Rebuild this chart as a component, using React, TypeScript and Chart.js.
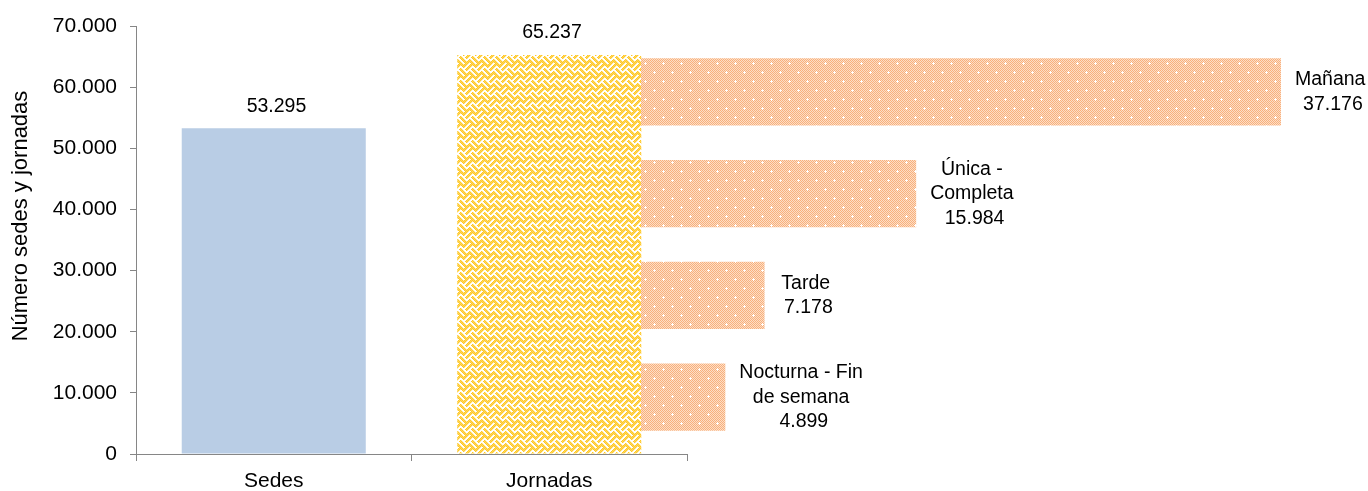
import React, { useEffect, useRef } from 'react';
import { Chart, registerables } from 'chart.js';

Chart.register(...registerables);

// ---- data ----
const categories = ['Sedes', 'Jornadas'];
const totals = [53295, 65237];
const shifts = ['Mañana', 'Única - Completa', 'Tarde', 'Nocturna - Fin de semana'];
const shiftLabelLines = [['Mañana'], ['Única -', 'Completa'], ['Tarde'], ['Nocturna - Fin', 'de semana']];
const shiftValues = [37176, 15984, 7178, 4899];
const yMin = 0;
const yMax = 70000;
const yStep = 10000;
const yAxisTitle = 'Número sedes y jornadas';

// ---- breakdown chart scale (hidden value axis) ----
const BREAKDOWN_MAX = 42231;

const W = 1368;
const H = 491;
const FONT = "'Liberation Sans', Arial, Helvetica, sans-serif";
const AXIS = '#868686';
const BLUE = '#B9CDE5';

const fmt = (n: number) => String(Math.round(n)).replace(/\B(?=(\d{3})+(?!\d))/g, '.');

function tileToPattern(ctx: CanvasRenderingContext2D, S: number, colorAt: (x: number, y: number) => number[]) {
  const c = document.createElement('canvas');
  c.width = S;
  c.height = S;
  const g = c.getContext('2d')!;
  const img = g.createImageData(S, S);
  for (let y = 0; y < S; y++) {
    for (let x = 0; x < S; x++) {
      const col = colorAt(x, y);
      const k = (y * S + x) * 4;
      img.data[k] = col[0];
      img.data[k + 1] = col[1];
      img.data[k + 2] = col[2];
      img.data[k + 3] = 255;
    }
  }
  g.putImageData(img, 0, 0);
  return ctx.createPattern(c, 'repeat')!;
}

function makeOrangePattern(ctx: CanvasRenderingContext2D) {
  const isPlus = (x: number, y: number, cx: number, cy: number) =>
    (x === cx && Math.abs(y - cy) <= 1) || (y === cy && Math.abs(x - cx) <= 1);
  return tileToPattern(ctx, 18, (x, y) => {
    if (isPlus(x, y, 4, 4) || isPlus(x, y, 13, 13)) return [255, 255, 255];
    return (x + y) % 2 === 0 ? [248, 176, 124] : [253, 222, 198];
  });
}

function makeYellowPattern(ctx: CanvasRenderingContext2D) {
  const P = 12;
  return tileToPattern(ctx, 24, (x, y) => {
    const u = x + y + 96;
    const v = x - y + 96;
    const cell = (Math.floor(u / P) + Math.floor(v / P)) % 2;
    const t = (cell === 0 ? v : u) % 6;
    if (t <= 2) return (x + y) % 2 === 0 ? [255, 200, 40] : [255, 214, 90];
    if (t === 3) return [255, 234, 165];
    return [255, 255, 255];
  });
}

const mainLabels = {
  id: 'mainLabels',
  afterDatasetsDraw(chart: any) {
    const ctx: CanvasRenderingContext2D = chart.ctx;
    ctx.save();
    ctx.fillStyle = '#000';
    ctx.textAlign = 'center';
    ctx.textBaseline = 'middle';
    ctx.font = `19.5px ${FONT}`;
    const sp = ctx.measureText(' ').width;
    chart.getDatasetMeta(0).data.forEach((el: any, i: number) => {
      ctx.fillText(fmt(totals[i]), el.x + sp / 2, el.y - 22);
    });
    ctx.font = `22px ${FONT}`;
    ctx.translate(21, 216);
    ctx.rotate(-Math.PI / 2);
    ctx.fillText(yAxisTitle, 0, 0);
    ctx.restore();
  },
};

const breakdownLabels = {
  id: 'breakdownLabels',
  afterDatasetsDraw(chart: any) {
    const ctx: CanvasRenderingContext2D = chart.ctx;
    ctx.save();
    ctx.fillStyle = '#000';
    ctx.textAlign = 'center';
    ctx.textBaseline = 'middle';
    ctx.font = `19.5px ${FONT}`;
    const sp = ctx.measureText(' ').width;
    const lh = 24.5;
    chart.getDatasetMeta(0).data.forEach((el: any, i: number) => {
      const textLines = shiftLabelLines[i];
      const valText = fmt(shiftValues[i]);
      const widths = textLines.map((l) => ctx.measureText(l).width);
      const w = Math.max(...widths, ctx.measureText(valText).width + sp);
      const cx = el.x + 14 + w / 2;
      const n = textLines.length + 1;
      const y0 = el.y - ((n - 1) * lh) / 2;
      textLines.forEach((l, k) => ctx.fillText(l, cx, y0 + k * lh));
      ctx.fillText(valText, cx + sp / 2, y0 + textLines.length * lh);
    });
    ctx.restore();
  },
};

export default function App() {
  const refA = useRef<HTMLCanvasElement>(null);
  const refB = useRef<HTMLCanvasElement>(null);

  useEffect(() => {
    Chart.defaults.font.family = FONT;
    const ctxA = refA.current!.getContext('2d')!;
    const chartA = new Chart(ctxA, {
      type: 'bar',
      data: {
        labels: categories,
        datasets: [
          {
            label: 'Total',
            data: totals,
            backgroundColor: [BLUE, makeYellowPattern(ctxA)],
            borderWidth: 0,
            categoryPercentage: 1,
            barPercentage: 0.668,
          },
        ],
      },
      options: {
        animation: false,
        responsive: false,
        devicePixelRatio: 1,
        events: [],
        layout: { padding: { left: 0, top: 26, right: 681, bottom: 0 } },
        plugins: { legend: { display: false }, tooltip: { enabled: false } },
        scales: {
          x: {
            type: 'category',
            offset: true,
            grid: { display: true, offset: true, drawOnChartArea: false, drawTicks: true, tickLength: 7, color: AXIS, lineWidth: 1 },
            border: { display: true, color: AXIS, width: 1 },
            ticks: { font: { size: 21, family: FONT }, color: '#000', padding: 8, maxRotation: 0, autoSkip: false },
            afterFit: (s: any) => {
              s.height = 37;
            },
          },
          y: {
            type: 'linear',
            min: yMin,
            max: yMax,
            ticks: {
              stepSize: yStep,
              font: { size: 21, family: FONT },
              color: '#000',
              padding: 13,
              callback: (v: any) => fmt(Number(v)),
            },
            grid: { drawOnChartArea: false, drawTicks: true, tickLength: 6, color: AXIS, lineWidth: 1 },
            border: { display: true, color: AXIS, width: 1 },
            afterFit: (s: any) => {
              s.width = 136;
            },
          },
        },
      },
      plugins: [mainLabels],
    } as any);

    // place the breakdown chart so it starts at the right edge of the "Jornadas" bar
    const jEl: any = chartA.getDatasetMeta(0).data[1];
    const left = Math.round(jEl.x + jEl.width / 2);
    const top = 41;
    const height = 407;
    const canvasB = refB.current!;
    canvasB.width = W - left;
    canvasB.height = height;
    canvasB.style.left = left + 'px';
    canvasB.style.top = top + 'px';
    canvasB.style.width = W - left + 'px';
    canvasB.style.height = height + 'px';
    const ctxB = canvasB.getContext('2d')!;
    const chartB = new Chart(ctxB, {
      type: 'bar',
      data: {
        labels: shifts,
        datasets: [
          {
            label: 'Jornadas',
            data: shiftValues,
            backgroundColor: makeOrangePattern(ctxB),
            borderWidth: 0,
            categoryPercentage: 1,
            barPercentage: 0.66,
          },
        ],
      },
      options: {
        indexAxis: 'y',
        animation: false,
        responsive: false,
        devicePixelRatio: 1,
        events: [],
        layout: { padding: 0 },
        plugins: { legend: { display: false }, tooltip: { enabled: false } },
        scales: {
          x: { type: 'linear', display: false, min: 0, max: BREAKDOWN_MAX },
          y: { type: 'category', display: false, offset: true },
        },
      },
      plugins: [breakdownLabels],
    } as any);

    return () => {
      chartB.destroy();
      chartA.destroy();
    };
  }, []);

  return (
    <div style={{ position: 'absolute', left: 0, top: 0, width: W, height: H, background: '#fff' }}>
      <canvas ref={refA} width={W} height={H} style={{ position: 'absolute', left: 0, top: 0, width: W, height: H }} />
      <canvas ref={refB} width={727} height={407} style={{ position: 'absolute', left: 641, top: 41 }} />
    </div>
  );
}
